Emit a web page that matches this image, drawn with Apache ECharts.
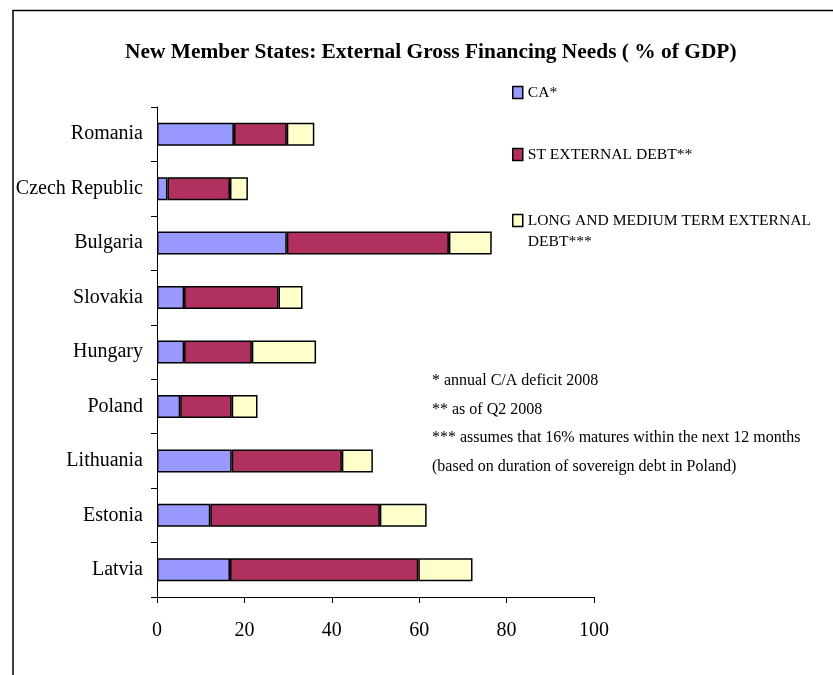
<!DOCTYPE html>
<html>
<head>
<meta charset="utf-8">
<script src="https://cdn.jsdelivr.net/npm/echarts@6/dist/echarts.min.js"></script>
<style>
  html, body { margin: 0; padding: 0; background: #fff; }
  #main { width: 833px; height: 675px; }
</style>
</head>
<body>
<div id="main"></div>
<script>
var myChart = echarts.init(document.getElementById('main'));

var titleText = 'New Member States: External Gross Financing Needs ( % of GDP)';
var fontName = '"Liberation Serif", "Times New Roman", serif';

// top to bottom, as in the picture
var countries = ['Romania', 'Czech Republic', 'Bulgaria', 'Slovakia', 'Hungary',
                 'Poland', 'Lithuania', 'Estonia', 'Latvia'];
var caDeficit = [17.6, 2.4, 29.7, 6.2, 6.2, 5.3, 17.1, 12.2, 16.7];
var stDebt    = [12.1, 14.3, 37.1, 21.6, 15.5, 11.8, 25.2, 38.8, 43.1];
var ltDebt    = [6.3, 4.1, 9.8, 5.5, 14.7, 5.9, 7.1, 10.7, 12.4];

var seriesNames = ['CA*', 'ST EXTERNAL DEBT**', 'LONG AND MEDIUM TERM EXTERNAL DEBT***'];
var seriesColors = ['#9999FF', '#B0305F', '#FFFFCC'];

var notes = [
    '* annual C/A deficit 2008',
    '** as of Q2 2008',
    '*** assumes that 16% matures within the next 12 months',
    '(based on duration of sovereign debt in Poland)'
];

var makeSeries = function(name, values, color) {
    return {
        name: name,
        type: 'bar',
        stack: 'total',
        barWidth: 23,
        data: values,
        itemStyle: {
            color: color,
            borderColor: '#000',
            borderWidth: 1.5
        },
        emphasis: { disabled: true },
        animation: false
    };
};

var noteGraphics = notes.map(function(t, i) {
    return {
        type: 'text',
        left: 432,
        top: 373 + i * 28.5,
        style: {
            text: t,
            fill: '#000',
            font: '16px ' + fontName
        }
    };
});

var legendBase = {
    orient: 'vertical',
    left: 512,
    padding: 0,
    itemWidth: 10,
    itemHeight: 12,
    itemGap: 41,
    icon: 'rect',
    textStyle: {
        color: '#000',
        fontFamily: fontName,
        fontSize: 15.6,
        lineHeight: 21
    },
    itemStyle: {
        borderColor: '#000',
        borderWidth: 1.5
    }
};

option = {
    backgroundColor: '#fff',
    title: {
        text: titleText,
        left: 120,
        top: 37,
        textStyle: {
            color: '#000',
            fontFamily: fontName,
            fontWeight: 'bold',
            fontSize: 21.4
        }
    },
    legend: [
        Object.assign({}, legendBase, {
            top: 82,
            data: [seriesNames[0], seriesNames[1]]
        }),
        // wrapped label: a blank first line keeps the swatch level with "LONG AND ..."
        Object.assign({}, legendBase, {
            top: 189,
            data: [seriesNames[2]],
            formatter: function() {
                return ' \nLONG AND MEDIUM TERM EXTERNAL\nDEBT***';
            }
        })
    ],
    grid: {
        left: 157,
        right: 239,
        top: 107,
        bottom: 78,
        containLabel: false,
        outerBoundsMode: 'none'
    },
    xAxis: {
        type: 'value',
        min: 0,
        max: 100,
        interval: 20,
        splitLine: { show: false },
        axisLine: { show: true, lineStyle: { color: '#000', width: 1 } },
        axisTick: { show: true, length: 6, lineStyle: { color: '#000' } },
        axisLabel: {
            color: '#000',
            fontFamily: fontName,
            fontSize: 20,
            margin: 24
        }
    },
    yAxis: {
        type: 'category',
        inverse: true,
        data: countries,
        axisLine: { show: true, lineStyle: { color: '#000', width: 1 } },
        axisTick: { show: true, length: 6, lineStyle: { color: '#000' } },
        axisLabel: {
            color: '#000',
            fontFamily: fontName,
            fontSize: 20,
            margin: 14
        }
    },
    graphic: [
        {
            type: 'polyline',
            shape: { points: [[13, 675], [13, 10.5], [833, 10.5]] },
            style: { stroke: '#000', lineWidth: 1.5, fill: null }
        }
    ].concat(noteGraphics),
    series: [
        makeSeries(seriesNames[0], caDeficit, seriesColors[0]),
        makeSeries(seriesNames[1], stDebt, seriesColors[1]),
        makeSeries(seriesNames[2], ltDebt, seriesColors[2])
    ]
};
myChart.setOption(option);
</script>
</body>
</html>
